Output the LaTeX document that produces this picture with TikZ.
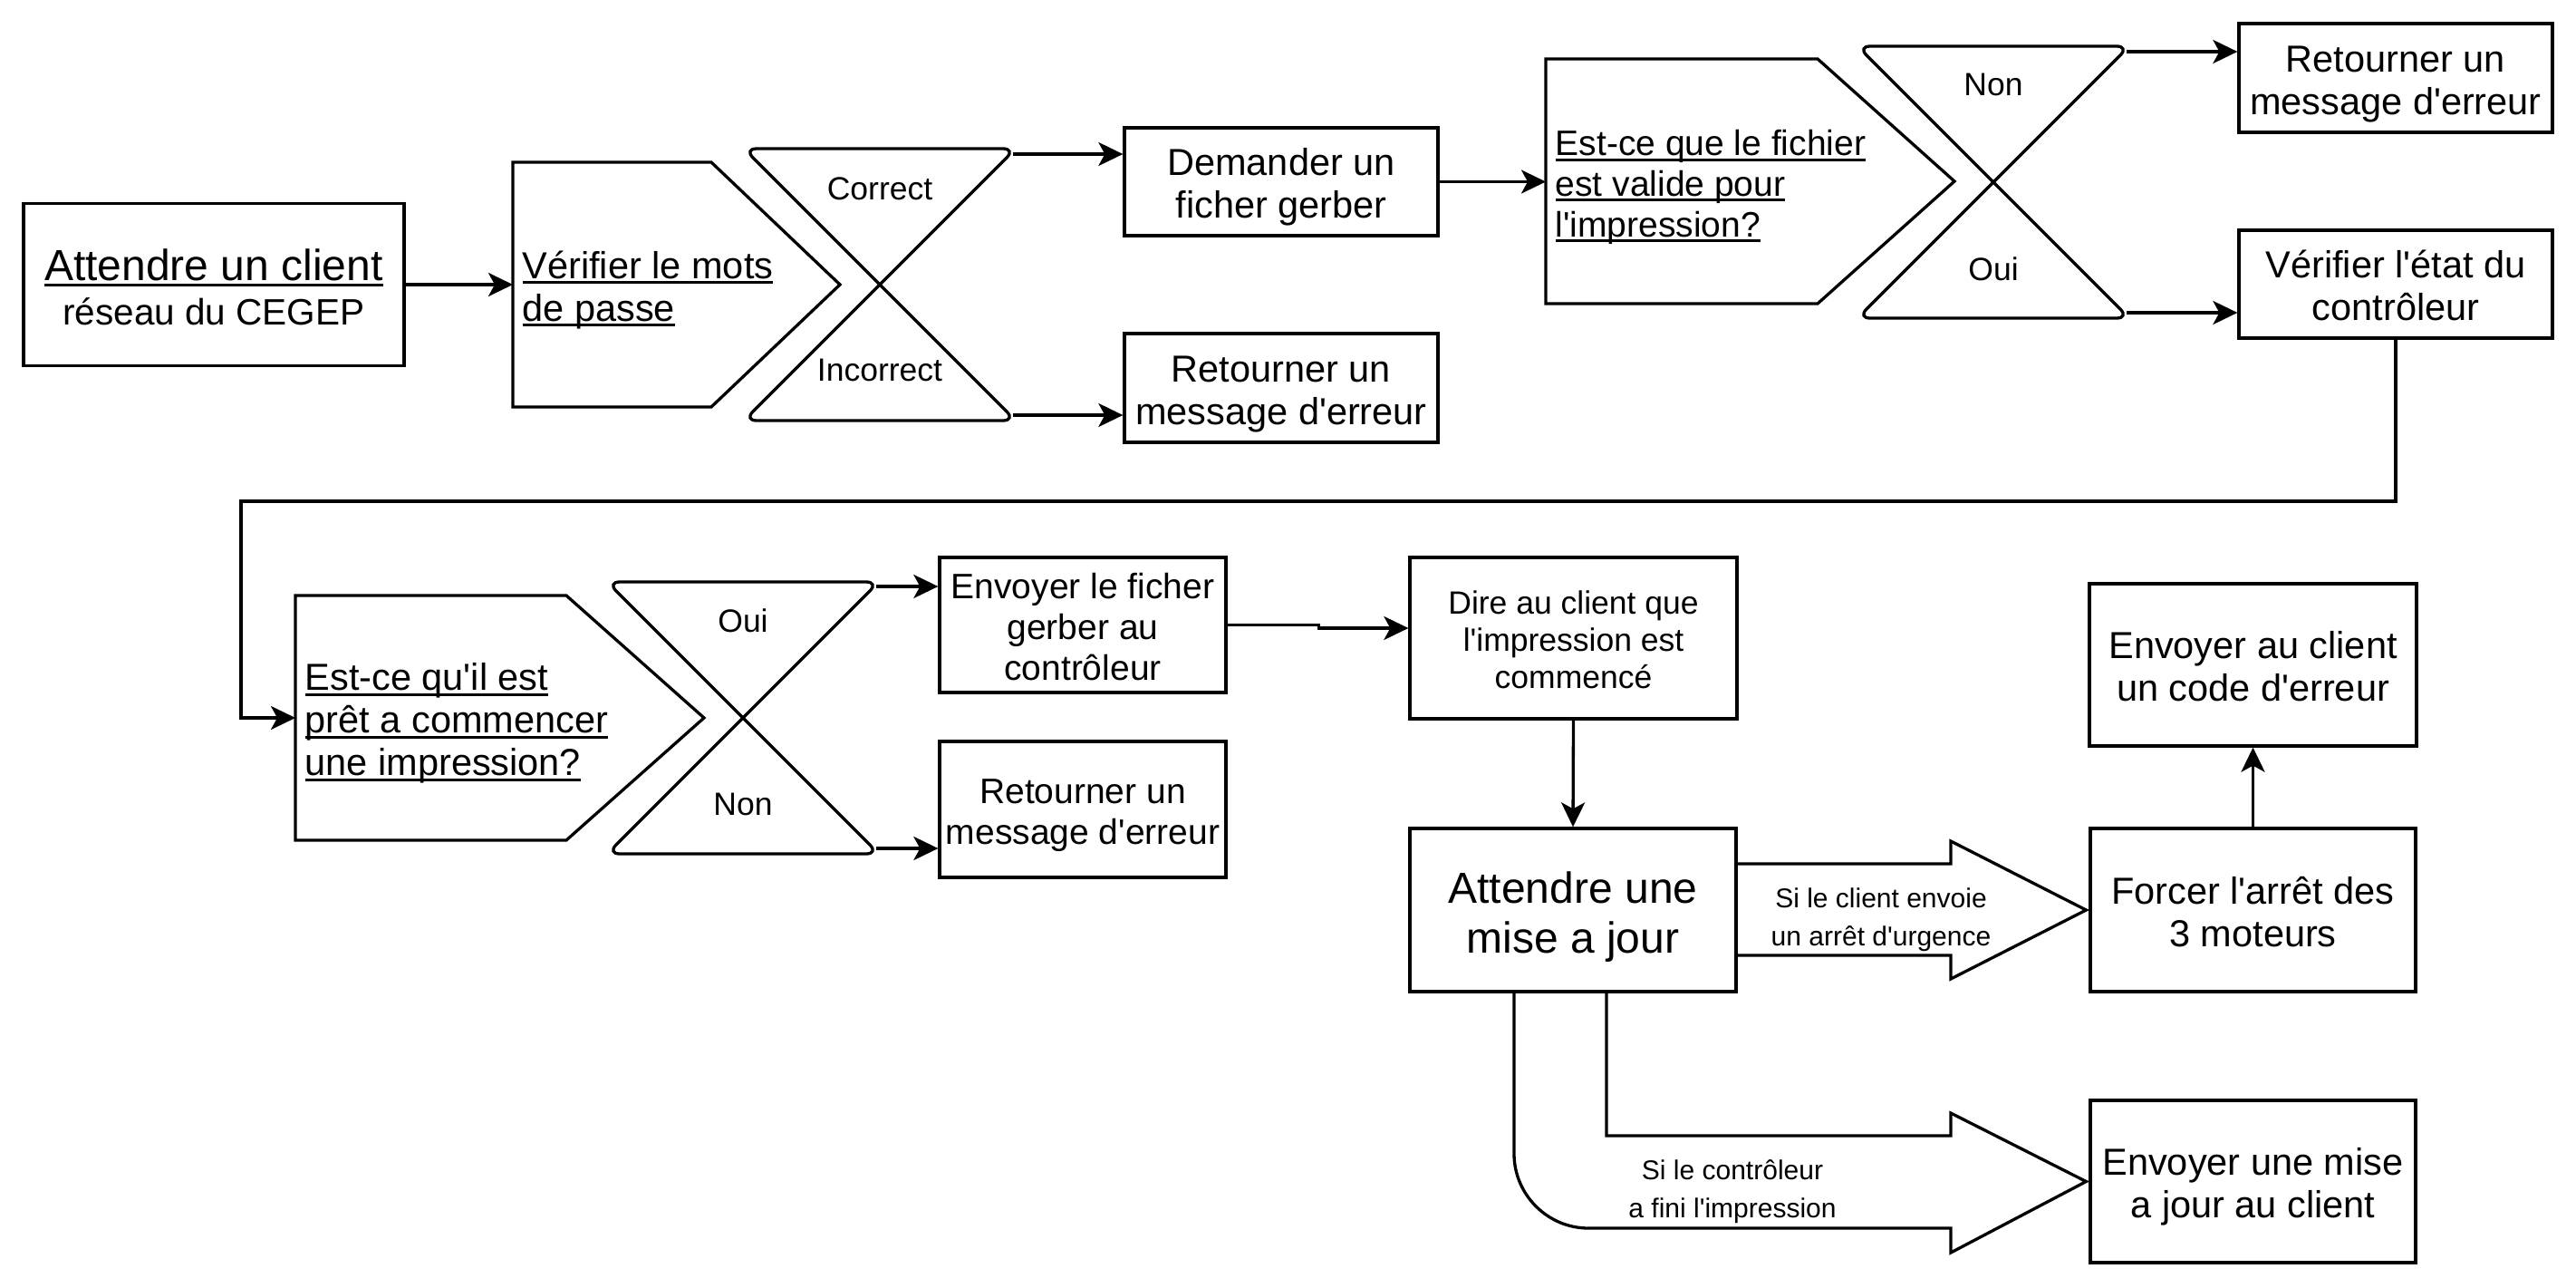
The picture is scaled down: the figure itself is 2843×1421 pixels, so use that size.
\documentclass[tikz,border=0pt]{standalone}
\usepackage{fontspec}
\setmainfont{Liberation Sans}
\newfontfamily\myarial{Liberation Sans}
\usetikzlibrary{arrows.meta,calc}
\newsavebox\myulbox
\newcommand\myul[1]{\sbox\myulbox{#1}\rlap{\rule[-6pt]{\wd\myulbox}{3pt}}\usebox\myulbox}
\newcommand\myst{\rule{0pt}{1.03em}}
\newcommand\myse{\rule[-0.212em]{0pt}{0.212em}}
\newcommand\myfbig{\myarial\fontsize{48}{55}\selectfont}
\newcommand\myfmain{\myarial\fontsize{41.5}{47}\selectfont}
\newcommand\myfmid{\myarial\fontsize{39}{44.8}\selectfont}
\newcommand\myfsmall{\myarial\fontsize{35.5}{41}\selectfont}
\newcommand\myftiny{\myarial\fontsize{30}{42}\selectfont}
\begin{document}
\begin{tikzpicture}[x=1pt,y=-1pt,
  line width=3.3pt,
  box/.style={draw, rectangle, inner sep=0pt, align=center},
  arr/.style={-{Stealth[length=27pt,width=26pt,inset=7pt]}},
  lab/.style={inner sep=0pt, font=\myfsmall},
  ptext/.style={anchor=west, inner sep=0pt, align=left},
  hglass/.style={rounded corners=14pt}]

\fill[white] (0,0) rectangle (2843,1421);
\useasboundingbox (0,0) rectangle (2843,1421);

% ---------- row 1 ----------
\node[box, minimum width=420pt, minimum height=179pt, font=\myfbig] (A) at (236,314)
  {\myst\myul{Attendre un client}\\[-6pt]{\fontsize{40.5}{49}\selectfont réseau du CEGEP\myse}};

\draw (566,179) -- (785,179) -- (927,314) -- (785,449) -- (566,449) -- cycle;
\node[ptext, font=\myfmain] (B) at (575,314) {\myst\myul{Vérifier le mots}\\\myul{de passe}\myse};
\coordinate (Bin) at (566,314);

\draw[hglass] (821,164) -- (1121,164) -- (821,464) -- (1121,464) -- cycle;
\node[lab] (h1a) at (971,208) {Correct};
\node[lab] (h1b) at (971,408) {Incorrect};
\coordinate (h1o1) at (1118,170);
\coordinate (h1o2) at (1118,458);

\node[box, minimum width=346pt, minimum height=119pt, font=\myfmain] (C) at (1414,200.5)
  {\myst Demander un\\ficher gerber\myse};
\node[box, minimum width=346pt, minimum height=120pt, font=\myfmain] (D) at (1414,428)
  {\myst Retourner un\\message d'erreur\myse};

\draw (1706,65) -- (2006,65) -- (2157,200) -- (2006,335) -- (1706,335) -- cycle;
\node[ptext, font=\myfmid] (E) at (1715,200.5)
  {\myst\myul{Est-ce que le fichier}\\\myul{est valide pour}\\\myul{l'impression?}\myse};
\coordinate (Ein) at (1706,200.5);

\draw[hglass] (2050,51) -- (2350,51) -- (2050,351) -- (2350,351) -- cycle;
\node[lab] (h2a) at (2200,93) {Non};
\node[lab] (h2b) at (2200,297) {Oui};
\coordinate (h2o1) at (2347,57);
\coordinate (h2o2) at (2347,345);

\node[box, minimum width=346pt, minimum height=120pt, font=\myfmain] (F) at (2644,86)
  {\myst Retourner un\\message d'erreur\myse};
\node[box, minimum width=346pt, minimum height=119pt, font=\myfmain] (G) at (2644,313.5)
  {\myst Vérifier l'état du\\contrôleur\myse};

% ---------- row 2 ----------
\draw (326,657) -- (625,657) -- (777,792) -- (625,927) -- (326,927) -- cycle;
\node[ptext, font=\myfmain] (H) at (335,792)
  {\myst\myul{Est-ce qu'il est}\\\myul{prêt a commencer}\\\myul{une impression?}\myse};
\coordinate (Hin) at (326,792);

\draw[hglass] (670,642) -- (970,642) -- (670,942) -- (970,942) -- cycle;
\node[lab] (h3a) at (820,685) {Oui};
\node[lab] (h3b) at (820,887) {Non};
\coordinate (h3o1) at (967,647);
\coordinate (h3o2) at (967,936);

\node[box, minimum width=316pt, minimum height=149pt, font=\myfmid] (I) at (1195,689.5)
  {\myst Envoyer le ficher\\gerber au\\contrôleur\myse};
\node[box, minimum width=316pt, minimum height=150pt, font=\myfmid] (J) at (1195,893)
  {\myst Retourner un\\message d'erreur\myse};

\node[box, minimum width=361pt, minimum height=178pt, font=\myfsmall] (K) at (1736.5,704)
  {\myst Dire au client que\\l'impression est\\commencé\myse};
\node[box, minimum width=360pt, minimum height=180pt, font=\myfbig] (L) at (1736,1004)
  {\myst Attendre une\\mise a jour\myse};
\node[box, minimum width=359pt, minimum height=180pt, font=\myfmain] (M) at (2486.5,1004)
  {\myst Forcer l'arrêt des\\3 moteurs\myse};
\node[box, minimum width=361pt, minimum height=179pt, font=\myfmain] (N) at (2486.5,733.5)
  {\myst Envoyer au client\\un code d'erreur\myse};
\node[box, minimum width=359pt, minimum height=179pt, font=\myfmain] (O) at (2486.5,1303.5)
  {\myst Envoyer une mise\\a jour au client\myse};

% ---------- connectors ----------
\draw[arr] (A.east) -- (Bin);
\draw[arr] (h1o1) -- (C.west |- h1o1);
\draw[arr] (h1o2) -- (D.west |- h1o2);
\draw[arr] (C.east) -- (Ein);
\draw[arr] (h2o1) -- (F.west |- h2o1);
\draw[arr] (h2o2) -- (G.west |- h2o2);
\draw[arr] (G.south) |- (266,553) |- (Hin);
\draw[arr] (h3o1) -- (I.west |- h3o1);
\draw[arr] (h3o2) -- (J.west |- h3o2);
\draw[arr] (I.east) -- ++(101,0) |- ([yshift=11pt]K.west);
\draw[arr] (K.south) -- (L.north);
\draw[arr] (M.north) -- (N.south);

% block arrow L -> M
\draw (L.east |- 0,953) -- (2153,953) -- (2153,928) -- ([xshift=-3pt]M.west)
  -- (2153,1080) -- (2153,1054) -- (L.east |- 0,1054);
\node[inner sep=0pt, align=center, font=\myftiny] (t1) at (2076,1014.5)
  {Si le client envoie\\un arrêt d'urgence};

% block arrow L -> O
\draw (1773,1094) -- (1773,1253) -- (2153,1253) -- (2153,1228) -- ([xshift=-3pt]O.west)
  -- (2153,1382) -- (2153,1355) -- (1753,1355)
  .. controls (1708,1355) and (1671,1318) .. (1671,1273) -- (1671,1094);
\node[inner sep=0pt, align=center, font=\myftiny] (t2) at (1912,1314.5)
  {Si le contrôleur\\a fini l'impression};

\end{tikzpicture}
\end{document}
